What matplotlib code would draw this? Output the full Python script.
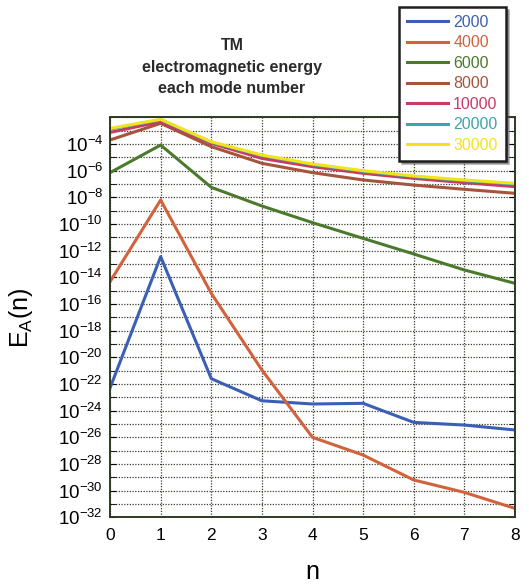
import numpy as np
import matplotlib
matplotlib.use("Agg")
from matplotlib import pyplot as plt

plt.rcParams['font.family'] = ['Liberation Sans', 'DejaVu Sans']
plt.rcParams['mathtext.default'] = 'regular'

# mode number and log10 of energy
n = [0, 1, 2, 3, 4, 5, 6, 7, 8]
labels = ['2000', '4000', '6000', '8000', '10000', '20000', '30000']
e2000 = [-22.3, -12.45, -21.6, -23.26, -23.5, -23.45, -24.88, -25.08, -25.45]
e4000 = [-14.33, -8.2, -15.2, -20.95, -26.0, -27.33, -29.2, -30.13, -31.33]
e6000 = [-6.15, -4.08, -7.25, -8.65, -9.9, -11.08, -12.25, -13.45, -14.45]
e8000 = [-3.7, -2.45, -4.2, -5.45, -6.15, -6.7, -7.08, -7.4, -7.7]
e10000 = [-3.13, -2.33, -3.95, -5.08, -5.7, -6.2, -6.58, -6.9, -7.2]
e20000 = [-2.88, -2.18, -3.87, -4.87, -5.55, -6.05, -6.45, -6.75, -7.0]
e30000 = [-2.83, -2.15, -3.83, -4.83, -5.5, -6.0, -6.4, -6.7, -6.95]

colors = ['#3b5fb5', '#d2623c', '#4b7a2c', '#a4553c', '#c93a66', '#3fa3ad', '#f3e41a']
series = [e2000, e4000, e6000, e8000, e10000, e20000, e30000]

fig = plt.figure(figsize=(5.29, 5.86), dpi=100)
ax = fig.add_axes([0.208, 0.1172, 0.7655, 0.6826])

for s, c, lab in zip(series, colors, labels):
    ax.plot(n, 10.0 ** np.array(s), color=c, lw=2.2, label=lab)

ax.set_yscale('log')
ax.set_xlim(0, 8)
ax.set_ylim(1e-32, 1e-2)
ax.set_xticks(n)
ax.set_yticks([10.0 ** e for e in range(-32, -3, 2)])
ax.set_yticklabels(['$10^{%d}$' % e for e in range(-32, -3, 2)])
ax.set_yticks([10.0 ** e for e in range(-31, -1, 2)] + [1e-2], minor=True)
ax.yaxis.set_minor_formatter(plt.NullFormatter())
ax.tick_params(axis='y', which='both', direction='in', right=True, length=4, labelsize=13.5, pad=5)
ax.tick_params(axis='x', direction='in', length=0, labelsize=12.5, pad=8)
ax.grid(True, which='both', axis='both', color='#3c3c30', ls=(0, (1, 1.2)), lw=0.9)
for sp in ax.spines.values():
    sp.set_color('#2e3a22')
    sp.set_linewidth(1.4)

ax.set_xlabel('n', fontsize=18, labelpad=12)
ax.set_ylabel('E$_A$(n)', fontsize=18)
ax.yaxis.set_label_coords(-0.185, 0.5)

fig.text(0.4386, 0.935, 'TM\nelectromagnetic energy\neach mode number', ha='center', va='top',
         fontsize=11.5, fontweight='bold', color='#2a2a2a', linespacing=1.55)

leg = fig.legend(loc='upper left', bbox_to_anchor=(0.754, 0.988), fontsize=11.5,
                 handlelength=2.6, labelspacing=0.34, handletextpad=0.3, borderpad=0.5,
                 borderaxespad=0, fancybox=False, shadow=True, framealpha=1,
                 labelcolor='linecolor')
leg.get_frame().set_edgecolor('#1e1e1e')
leg.get_frame().set_linewidth(1.8)

fig.savefig('out.png', dpi=100)
